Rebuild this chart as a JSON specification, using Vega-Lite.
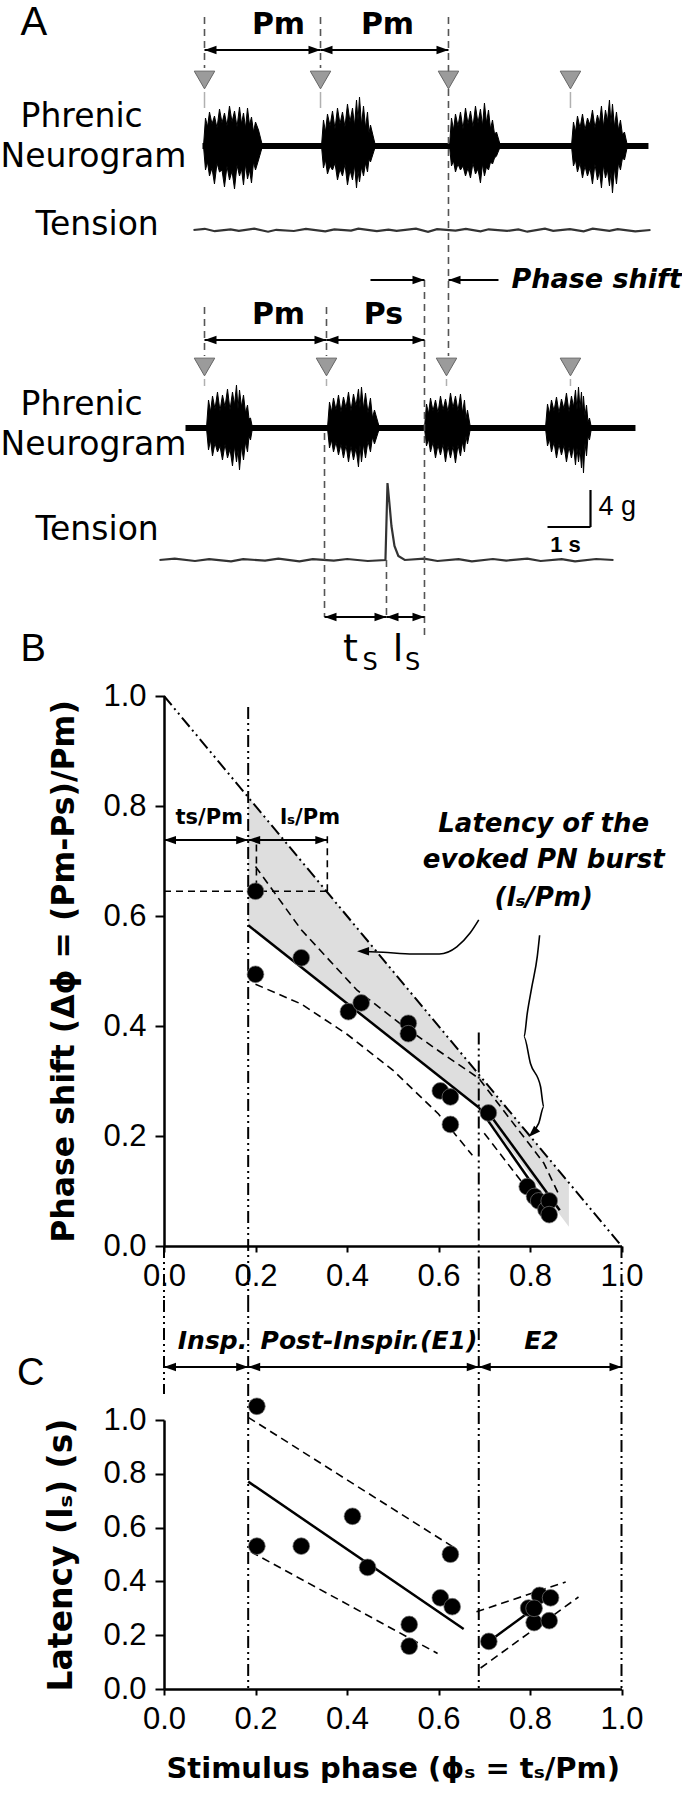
{
"$schema":"https://vega.github.io/schema/vega-lite/v6.json",
"background":"white",
"padding":0,
"spacing":174,
"bounds":"flush",
"config":{"view":{"stroke":null},"font":"DejaVu Sans",
 "axis":{"grid":false,"domainColor":"black","domainWidth":2.5,"tickColor":"black","tickWidth":2,"labelFont":"Liberation Sans","labelFontSize":31,"labelColor":"black","labelFlush":false,"labelOverlap":false,"labelBound":false,"titleFont":"DejaVu Sans","titleFontWeight":"bold","titleFontSize":31,"titleColor":"black"}},
"resolve":{"scale":{"x":"independent","y":"independent"}},
"vconcat":[
{
 "width":457.5,"height":522,
 "encoding":{
  "x":{"field":"x","type":"quantitative","scale":{"domain":[0,10.64],"nice":false,"zero":false},"axis":null},
  "y":{"field":"y","type":"quantitative","scale":{"domain":[0,52.2],"nice":false,"zero":false},"axis":null}
 },
 "layer":[
  {"data":{"values":[{"x":0.895,"x2":11.267,"y":37.3,"y2":37.9},{"x":0.5,"x2":10.965,"y":9.1,"y2":9.7}]},
   "mark":{"type":"rect","color":"black"},
   "encoding":{"x2":{"field":"x2"},"y2":{"field":"y2"}}},
  {"data":{"values":[
   {"id":"a1","x":0.919,"y":37.6,"y2":37.6},{"id":"a1","x":0.965,"y":40.4,"y2":35.2},{"id":"a1","x":1.012,"y":39.5,"y2":36.0},{"id":"a1","x":1.058,"y":41.0,"y2":34.6},{"id":"a1","x":1.116,"y":39.8,"y2":35.4},{"id":"a1","x":1.174,"y":40.6,"y2":33.8},{"id":"a1","x":1.233,"y":39.4,"y2":35.9},{"id":"a1","x":1.291,"y":41.3,"y2":35.0},{"id":"a1","x":1.349,"y":39.9,"y2":35.2},{"id":"a1","x":1.407,"y":40.9,"y2":33.5},{"id":"a1","x":1.465,"y":39.6,"y2":35.6},{"id":"a1","x":1.523,"y":41.6,"y2":34.2},{"id":"a1","x":1.582,"y":40.0,"y2":35.1},{"id":"a1","x":1.640,"y":41.1,"y2":33.3},{"id":"a1","x":1.698,"y":39.5,"y2":35.7},{"id":"a1","x":1.756,"y":41.5,"y2":34.6},{"id":"a1","x":1.803,"y":39.8,"y2":35.3},{"id":"a1","x":1.849,"y":40.9,"y2":33.7},{"id":"a1","x":1.896,"y":39.4,"y2":35.8},{"id":"a1","x":1.942,"y":41.4,"y2":34.3},{"id":"a1","x":1.989,"y":39.7,"y2":35.2},{"id":"a1","x":2.035,"y":40.5,"y2":33.9},{"id":"a1","x":2.082,"y":39.0,"y2":36.0},{"id":"a1","x":2.128,"y":40.0,"y2":35.2},{"id":"a1","x":2.198,"y":39.2,"y2":36.2},{"id":"a1","x":2.291,"y":37.6,"y2":37.6},
   {"id":"a2","x":3.663,"y":37.6,"y2":37.6},{"id":"a2","x":3.709,"y":40.2,"y2":35.4},{"id":"a2","x":3.756,"y":39.0,"y2":36.2},{"id":"a2","x":3.802,"y":40.8,"y2":34.8},{"id":"a2","x":3.861,"y":39.6,"y2":35.6},{"id":"a2","x":3.919,"y":41.1,"y2":35.2},{"id":"a2","x":3.977,"y":39.3,"y2":35.9},{"id":"a2","x":4.035,"y":41.4,"y2":34.2},{"id":"a2","x":4.093,"y":39.8,"y2":35.3},{"id":"a2","x":4.151,"y":41.0,"y2":34.6},{"id":"a2","x":4.209,"y":39.5,"y2":35.8},{"id":"a2","x":4.267,"y":41.8,"y2":33.7},{"id":"a2","x":4.326,"y":40.0,"y2":35.2},{"id":"a2","x":4.384,"y":41.4,"y2":34.2},{"id":"a2","x":4.431,"y":39.6,"y2":35.7},{"id":"a2","x":4.477,"y":42.2,"y2":33.4},{"id":"a2","x":4.512,"y":40.2,"y2":35.1},{"id":"a2","x":4.547,"y":42.5,"y2":34.0},{"id":"a2","x":4.594,"y":39.7,"y2":35.5},{"id":"a2","x":4.640,"y":41.6,"y2":34.6},{"id":"a2","x":4.687,"y":39.4,"y2":35.9},{"id":"a2","x":4.733,"y":41.0,"y2":35.0},{"id":"a2","x":4.768,"y":38.9,"y2":36.3},{"id":"a2","x":4.802,"y":39.7,"y2":36.0},{"id":"a2","x":4.919,"y":37.6,"y2":37.6},
   {"id":"a3","x":6.640,"y":37.6,"y2":37.6},{"id":"a3","x":6.686,"y":40.4,"y2":35.6},{"id":"a3","x":6.733,"y":39.2,"y2":36.1},{"id":"a3","x":6.779,"y":40.8,"y2":35.0},{"id":"a3","x":6.837,"y":39.6,"y2":35.8},{"id":"a3","x":6.895,"y":41.0,"y2":35.2},{"id":"a3","x":6.954,"y":39.3,"y2":35.6},{"id":"a3","x":7.012,"y":41.4,"y2":34.6},{"id":"a3","x":7.070,"y":39.8,"y2":35.4},{"id":"a3","x":7.128,"y":41.1,"y2":34.4},{"id":"a3","x":7.186,"y":39.5,"y2":35.9},{"id":"a3","x":7.244,"y":41.6,"y2":34.8},{"id":"a3","x":7.302,"y":39.9,"y2":35.3},{"id":"a3","x":7.360,"y":41.3,"y2":33.9},{"id":"a3","x":7.407,"y":39.6,"y2":35.8},{"id":"a3","x":7.453,"y":41.9,"y2":34.6},{"id":"a3","x":7.500,"y":39.9,"y2":35.5},{"id":"a3","x":7.547,"y":41.2,"y2":35.2},{"id":"a3","x":7.594,"y":39.3,"y2":36.0},{"id":"a3","x":7.640,"y":40.2,"y2":35.8},{"id":"a3","x":7.687,"y":38.8,"y2":36.4},{"id":"a3","x":7.733,"y":39.0,"y2":36.6},{"id":"a3","x":7.826,"y":37.6,"y2":37.6},
   {"id":"a4","x":9.477,"y":37.6,"y2":37.6},{"id":"a4","x":9.523,"y":40.0,"y2":35.6},{"id":"a4","x":9.570,"y":39.0,"y2":36.2},{"id":"a4","x":9.616,"y":40.6,"y2":35.0},{"id":"a4","x":9.675,"y":39.4,"y2":35.9},{"id":"a4","x":9.733,"y":40.8,"y2":34.4},{"id":"a4","x":9.791,"y":39.2,"y2":35.6},{"id":"a4","x":9.849,"y":40.4,"y2":34.6},{"id":"a4","x":9.907,"y":39.7,"y2":35.4},{"id":"a4","x":9.965,"y":41.2,"y2":33.8},{"id":"a4","x":10.023,"y":39.4,"y2":35.8},{"id":"a4","x":10.081,"y":40.7,"y2":34.2},{"id":"a4","x":10.128,"y":39.9,"y2":35.1},{"id":"a4","x":10.174,"y":41.6,"y2":33.4},{"id":"a4","x":10.221,"y":39.5,"y2":35.7},{"id":"a4","x":10.267,"y":41.2,"y2":34.4},{"id":"a4","x":10.314,"y":40.1,"y2":35.2},{"id":"a4","x":10.360,"y":42.2,"y2":33.6},{"id":"a4","x":10.395,"y":39.8,"y2":35.0},{"id":"a4","x":10.430,"y":41.8,"y2":32.9},{"id":"a4","x":10.477,"y":39.5,"y2":35.4},{"id":"a4","x":10.523,"y":41.0,"y2":33.8},{"id":"a4","x":10.570,"y":39.2,"y2":35.9},{"id":"a4","x":10.616,"y":40.2,"y2":35.2},{"id":"a4","x":10.663,"y":38.7,"y2":36.4},{"id":"a4","x":10.709,"y":39.0,"y2":36.2},{"id":"a4","x":10.779,"y":37.6,"y2":37.6},
   {"id":"b1","x":0.988,"y":9.4,"y2":9.4},{"id":"b1","x":1.035,"y":12.2,"y2":7.2},{"id":"b1","x":1.082,"y":11.0,"y2":8.2},{"id":"b1","x":1.128,"y":12.6,"y2":6.6},{"id":"b1","x":1.186,"y":11.3,"y2":7.9},{"id":"b1","x":1.244,"y":13.0,"y2":7.0},{"id":"b1","x":1.302,"y":11.1,"y2":7.6},{"id":"b1","x":1.360,"y":12.7,"y2":6.2},{"id":"b1","x":1.419,"y":11.5,"y2":7.8},{"id":"b1","x":1.477,"y":13.3,"y2":6.4},{"id":"b1","x":1.535,"y":11.2,"y2":7.3},{"id":"b1","x":1.593,"y":13.0,"y2":5.6},{"id":"b1","x":1.640,"y":11.7,"y2":7.6},{"id":"b1","x":1.686,"y":13.7,"y2":6.0},{"id":"b1","x":1.721,"y":11.3,"y2":7.2},{"id":"b1","x":1.756,"y":13.2,"y2":5.2},{"id":"b1","x":1.803,"y":11.5,"y2":7.6},{"id":"b1","x":1.849,"y":12.7,"y2":6.2},{"id":"b1","x":1.896,"y":10.9,"y2":8.0},{"id":"b1","x":1.942,"y":11.7,"y2":7.0},{"id":"b1","x":1.977,"y":10.3,"y2":8.6},{"id":"b1","x":2.012,"y":10.4,"y2":8.2},{"id":"b1","x":2.058,"y":9.4,"y2":9.4},
   {"id":"b2","x":3.802,"y":9.4,"y2":9.4},{"id":"b2","x":3.849,"y":12.0,"y2":7.4},{"id":"b2","x":3.896,"y":11.0,"y2":8.2},{"id":"b2","x":3.942,"y":12.4,"y2":7.0},{"id":"b2","x":4.000,"y":11.2,"y2":8.0},{"id":"b2","x":4.058,"y":12.7,"y2":6.7},{"id":"b2","x":4.116,"y":11.0,"y2":7.8},{"id":"b2","x":4.174,"y":12.5,"y2":6.4},{"id":"b2","x":4.233,"y":11.4,"y2":7.7},{"id":"b2","x":4.291,"y":13.0,"y2":6.0},{"id":"b2","x":4.349,"y":11.1,"y2":7.6},{"id":"b2","x":4.407,"y":12.8,"y2":6.2},{"id":"b2","x":4.465,"y":11.6,"y2":7.4},{"id":"b2","x":4.523,"y":13.3,"y2":5.5},{"id":"b2","x":4.558,"y":11.4,"y2":7.7},{"id":"b2","x":4.593,"y":13.5,"y2":6.0},{"id":"b2","x":4.640,"y":11.3,"y2":7.8},{"id":"b2","x":4.686,"y":12.9,"y2":6.4},{"id":"b2","x":4.744,"y":10.9,"y2":8.1},{"id":"b2","x":4.802,"y":12.4,"y2":7.0},{"id":"b2","x":4.849,"y":10.4,"y2":8.5},{"id":"b2","x":4.895,"y":11.2,"y2":7.8},{"id":"b2","x":5.012,"y":9.4,"y2":9.4},
   {"id":"b3","x":6.058,"y":9.4,"y2":9.4},{"id":"b3","x":6.105,"y":11.8,"y2":7.6},{"id":"b3","x":6.152,"y":10.8,"y2":8.3},{"id":"b3","x":6.198,"y":12.4,"y2":7.0},{"id":"b3","x":6.256,"y":11.1,"y2":8.0},{"id":"b3","x":6.314,"y":12.2,"y2":6.4},{"id":"b3","x":6.372,"y":10.9,"y2":7.7},{"id":"b3","x":6.430,"y":12.6,"y2":6.7},{"id":"b3","x":6.489,"y":11.2,"y2":7.8},{"id":"b3","x":6.547,"y":12.3,"y2":6.0},{"id":"b3","x":6.605,"y":11.0,"y2":7.6},{"id":"b3","x":6.663,"y":12.9,"y2":6.4},{"id":"b3","x":6.721,"y":11.4,"y2":7.6},{"id":"b3","x":6.779,"y":12.6,"y2":5.9},{"id":"b3","x":6.837,"y":11.1,"y2":7.7},{"id":"b3","x":6.895,"y":12.8,"y2":6.6},{"id":"b3","x":6.942,"y":10.9,"y2":8.0},{"id":"b3","x":6.988,"y":12.2,"y2":7.0},{"id":"b3","x":7.023,"y":10.3,"y2":8.6},{"id":"b3","x":7.058,"y":11.2,"y2":7.8},{"id":"b3","x":7.128,"y":9.4,"y2":9.4},
   {"id":"b4","x":8.872,"y":9.4,"y2":9.4},{"id":"b4","x":8.919,"y":11.8,"y2":7.6},{"id":"b4","x":8.966,"y":10.8,"y2":8.3},{"id":"b4","x":9.012,"y":12.2,"y2":7.0},{"id":"b4","x":9.070,"y":11.1,"y2":8.0},{"id":"b4","x":9.128,"y":12.5,"y2":6.4},{"id":"b4","x":9.186,"y":10.9,"y2":7.8},{"id":"b4","x":9.244,"y":12.3,"y2":6.7},{"id":"b4","x":9.302,"y":11.3,"y2":7.7},{"id":"b4","x":9.360,"y":12.9,"y2":6.0},{"id":"b4","x":9.419,"y":11.0,"y2":7.5},{"id":"b4","x":9.477,"y":12.6,"y2":6.4},{"id":"b4","x":9.524,"y":11.5,"y2":7.6},{"id":"b4","x":9.570,"y":13.2,"y2":5.7},{"id":"b4","x":9.605,"y":11.2,"y2":7.4},{"id":"b4","x":9.640,"y":13.5,"y2":6.0},{"id":"b4","x":9.675,"y":11.3,"y2":7.3},{"id":"b4","x":9.709,"y":13.0,"y2":5.4},{"id":"b4","x":9.733,"y":11.0,"y2":7.1},{"id":"b4","x":9.756,"y":12.6,"y2":4.9},{"id":"b4","x":9.791,"y":10.6,"y2":7.9},{"id":"b4","x":9.826,"y":11.7,"y2":6.6},{"id":"b4","x":9.861,"y":10.0,"y2":8.6},{"id":"b4","x":9.895,"y":10.4,"y2":8.2},{"id":"b4","x":9.942,"y":9.4,"y2":9.4}
  ]},
   "mark":{"type":"area","color":"black","stroke":"black","strokeWidth":1,"opacity":1},
   "encoding":{"y2":{"field":"y2"},"detail":{"field":"id"}}},
  {"data":{"values":[
   {"id":"T1","x":0.686,"y":29.2},{"id":"T1","x":0.95,"y":29.32},{"id":"T1","x":1.18,"y":29.08},{"id":"T1","x":1.55,"y":29.27},{"id":"T1","x":1.74,"y":29.12},{"id":"T1","x":2.1,"y":29.33},{"id":"T1","x":2.42,"y":29.03},{"id":"T1","x":2.61,"y":29.22},{"id":"T1","x":3.02,"y":29.1},{"id":"T1","x":3.3,"y":29.31},{"id":"T1","x":3.75,"y":29.06},{"id":"T1","x":3.96,"y":29.26},{"id":"T1","x":4.35,"y":29.14},{"id":"T1","x":4.52,"y":29.33},{"id":"T1","x":4.95,"y":29.08},{"id":"T1","x":5.22,"y":29.24},{"id":"T1","x":5.41,"y":29.12},{"id":"T1","x":5.86,"y":29.34},{"id":"T1","x":6.14,"y":29.02},{"id":"T1","x":6.35,"y":29.28},{"id":"T1","x":6.78,"y":29.13},{"id":"T1","x":7.02,"y":29.32},{"id":"T1","x":7.36,"y":29.07},{"id":"T1","x":7.55,"y":29.27},{"id":"T1","x":7.98,"y":29.11},{"id":"T1","x":8.24,"y":29.26},{"id":"T1","x":8.45,"y":29.03},{"id":"T1","x":8.86,"y":29.33},{"id":"T1","x":9.05,"y":29.12},{"id":"T1","x":9.44,"y":29.29},{"id":"T1","x":9.76,"y":29.06},{"id":"T1","x":9.97,"y":29.33},{"id":"T1","x":10.36,"y":29.12},{"id":"T1","x":10.55,"y":29.29},{"id":"T1","x":10.96,"y":29.07},{"id":"T1","x":11.314,"y":29.2},
   {"id":"T2","x":-0.105,"y":-3.8},{"id":"T2","x":0.25,"y":-3.66},{"id":"T2","x":0.72,"y":-3.9},{"id":"T2","x":1.05,"y":-3.71},{"id":"T2","x":1.56,"y":-3.93},{"id":"T2","x":1.84,"y":-3.72},{"id":"T2","x":2.35,"y":-3.86},{"id":"T2","x":2.66,"y":-3.67},{"id":"T2","x":3.15,"y":-3.94},{"id":"T2","x":3.46,"y":-3.72},{"id":"T2","x":3.95,"y":-3.86},{"id":"T2","x":4.26,"y":-3.7},{"id":"T2","x":4.74,"y":-3.9},{"id":"T2","x":5.15,"y":-3.8},{"id":"T2","x":5.198,"y":3.9},{"id":"T2","x":5.24,"y":2.0},{"id":"T2","x":5.29,"y":-0.4},{"id":"T2","x":5.36,"y":-2.4},{"id":"T2","x":5.45,"y":-3.4},{"id":"T2","x":5.6,"y":-3.8},{"id":"T2","x":6.05,"y":-3.66},{"id":"T2","x":6.36,"y":-3.9},{"id":"T2","x":6.85,"y":-3.71},{"id":"T2","x":7.16,"y":-3.94},{"id":"T2","x":7.65,"y":-3.7},{"id":"T2","x":7.96,"y":-3.86},{"id":"T2","x":8.45,"y":-3.66},{"id":"T2","x":8.76,"y":-3.9},{"id":"T2","x":9.25,"y":-3.72},{"id":"T2","x":9.56,"y":-3.94},{"id":"T2","x":10.05,"y":-3.7},{"id":"T2","x":10.453,"y":-3.8}
  ]},
   "mark":{"type":"line","color":"#333333","strokeWidth":2.2},
   "encoding":{"detail":{"field":"id"}}},
  {"data":{"values":[{"x":0.942,"y":50.5,"y2":45.4},{"x":3.640,"y":50.5,"y2":45.4},{"x":6.616,"y":50.5,"y2":16.6},{"x":0.942,"y":21.5,"y2":16.6},{"x":3.779,"y":21.5,"y2":16.6},{"x":6.058,"y":24.2,"y2":-11.5},{"x":3.733,"y":8.9,"y2":-9.5},{"x":5.174,"y":-3.8,"y2":-9.5}]},
   "mark":{"type":"rule","color":"#555555","strokeWidth":1.6,"strokeDash":[7,5]},
   "encoding":{"y2":{"field":"y2"}}},
  {"data":{"values":[{"x":0.942,"y":43.0,"y2":41.4},{"x":3.640,"y":43.0,"y2":41.4},{"x":9.453,"y":43.0,"y2":41.4},{"x":0.942,"y":14.3,"y2":13.6},{"x":3.779,"y":14.3,"y2":13.6},{"x":6.570,"y":14.3,"y2":13.6},{"x":9.453,"y":14.3,"y2":13.6}]},
   "mark":{"type":"rule","color":"#b0b0b0","strokeWidth":1.5},
   "encoding":{"y2":{"field":"y2"}}},
  {"data":{"values":[{"x":0.942,"x2":3.640,"y":47.2,"y2":47.2},{"x":3.640,"x2":6.616,"y":47.2,"y2":47.2},{"x":0.942,"x2":3.779,"y":18.2,"y2":18.2},{"x":3.779,"x2":6.058,"y":18.2,"y2":18.2},{"x":4.802,"x2":6.058,"y":24.2,"y2":24.2},{"x":6.616,"x2":7.779,"y":24.2,"y2":24.2},{"x":3.733,"x2":5.174,"y":-9.5,"y2":-9.5},{"x":5.174,"x2":6.058,"y":-9.5,"y2":-9.5},{"x":9.919,"x2":9.919,"y":3.2,"y2":-0.5},{"x":8.919,"x2":9.919,"y":-0.5,"y2":-0.5}]},
   "mark":{"type":"rule","color":"black","strokeWidth":2.2},
   "encoding":{"x2":{"field":"x2"},"y2":{"field":"y2"}}},
  {"data":{"values":[{"x":0.942,"y":47.2,"a":180},{"x":3.640,"y":47.2,"a":0},{"x":3.640,"y":47.2,"a":180},{"x":6.616,"y":47.2,"a":0},{"x":0.942,"y":18.2,"a":180},{"x":3.779,"y":18.2,"a":0},{"x":3.779,"y":18.2,"a":180},{"x":6.058,"y":18.2,"a":0},{"x":6.058,"y":24.2,"a":0},{"x":6.616,"y":24.2,"a":180},{"x":3.733,"y":-9.5,"a":180},{"x":5.174,"y":-9.5,"a":0},{"x":5.174,"y":-9.5,"a":180},{"x":6.058,"y":-9.5,"a":0}]},
   "mark":{"type":"point","shape":"M0,0L-2,-0.7L-2,0.7Z","filled":true,"fill":"black","strokeWidth":0,"size":144,"opacity":1},
   "encoding":{"angle":{"field":"a","type":"quantitative","scale":null}}},
  {"data":{"values":[{"x":0.942,"y":44.2},{"x":3.640,"y":44.2},{"x":6.616,"y":44.2},{"x":9.453,"y":44.2},{"x":0.942,"y":15.5},{"x":3.779,"y":15.5},{"x":6.570,"y":15.5},{"x":9.453,"y":15.5}]},
   "mark":{"type":"point","shape":"triangle-down","filled":true,"fill":"#9b9b9b","stroke":"#666666","strokeWidth":1,"size":420,"opacity":1}},
  {"data":{"values":[{"x":-3.337,"y":49.9,"label":"A"}]},
   "mark":{"type":"text","font":"Liberation Sans","fontSize":40,"align":"left","baseline":"middle","color":"black"},
   "encoding":{"text":{"field":"label"}}},
  {"data":{"values":[{"x":-3.337,"y":40.5,"label":"Phrenic"},{"x":-3.802,"y":36.5,"label":"Neurogram"},{"x":-2.988,"y":29.7,"label":"Tension"},{"x":-3.337,"y":11.7,"label":"Phrenic"},{"x":-3.802,"y":7.7,"label":"Neurogram"},{"x":-2.988,"y":-0.8,"label":"Tension"}]},
   "mark":{"type":"text","font":"DejaVu Sans","fontSize":33,"align":"left","baseline":"middle","color":"black"},
   "encoding":{"text":{"field":"label"}}},
  {"data":{"values":[{"x":2.663,"y":49.7,"label":"Pm"},{"x":5.198,"y":49.7,"label":"Pm"},{"x":2.663,"y":20.7,"label":"Pm"},{"x":5.105,"y":20.7,"label":"Ps"}]},
   "mark":{"type":"text","font":"DejaVu Sans","fontWeight":"bold","fontSize":30,"align":"center","baseline":"middle","color":"black"},
   "encoding":{"text":{"field":"label"}}},
  {"data":{"values":[{"x":8.081,"y":24.2,"label":"Phase shift"}]},
   "mark":{"type":"text","font":"DejaVu Sans","fontWeight":"bold","fontStyle":"italic","fontSize":27,"align":"left","baseline":"middle","color":"black"},
   "encoding":{"text":{"field":"label"}}},
  {"data":{"values":[{"x":10.105,"y":1.5,"label":"4 g"}]},
   "mark":{"type":"text","font":"Liberation Sans","fontSize":27,"align":"left","baseline":"middle","color":"black"},
   "encoding":{"text":{"field":"label"}}},
  {"data":{"values":[{"x":9.337,"y":-2.3,"label":"1 s"}]},
   "mark":{"type":"text","font":"Liberation Sans","fontWeight":"bold","fontSize":22,"align":"center","baseline":"middle","color":"black"},
   "encoding":{"text":{"field":"label"}}},
  {"data":{"values":[{"x":4.337,"y":-12.8,"label":"t"},{"x":5.442,"y":-12.8,"label":"l"}]},
   "mark":{"type":"text","font":"DejaVu Sans","fontSize":38,"align":"center","baseline":"middle","color":"black"},
   "encoding":{"text":{"field":"label"}}},
  {"data":{"values":[{"x":4.791,"y":-14.05,"label":"S"},{"x":5.779,"y":-14.05,"label":"S"}]},
   "mark":{"type":"text","font":"DejaVu Sans","fontSize":24,"align":"center","baseline":"middle","color":"black"},
   "encoding":{"text":{"field":"label"}}}
 ]
},
{
 "width":457.5,"height":550,
 "encoding":{
  "x":{"field":"x","type":"quantitative","scale":{"domain":[0,1],"nice":false,"zero":false},"axis":{"values":[0,0.2,0.4,0.6,0.8,1],"format":".1f","title":null,"tickSize":6,"labelPadding":9}},
  "y":{"field":"y","type":"quantitative","scale":{"domain":[0,1],"nice":false,"zero":false},"axis":{"values":[0,0.2,0.4,0.6,0.8,1],"format":".1f","title":"Phase shift (Δϕ = (Pm-Ps)/Pm)","tickSize":9,"labelPadding":9,"titlePadding":22,"titleFontSize":31.5}}
 },
 "layer":[
  {"data":{"values":[{"x":0.184,"y":0.583,"y2":0.816},{"x":0.688,"y":0.252,"y2":0.312},{"x":0.885,"y":0.035,"y2":0.115}]},
   "mark":{"type":"area","color":"#dedede","opacity":1},
   "encoding":{"y2":{"field":"y2"}}},
  {"data":{"values":[{"x":0,"y":1},{"x":1,"y":0}]},
   "mark":{"type":"line","color":"black","strokeWidth":2,"strokeDash":[12,4,2,4,2,4]}},
  {"data":{"values":[{"x":0.184,"y":0.98,"y2":-0.098},{"x":0.688,"y":0.388,"y2":-0.098},{"x":1,"y":0,"y2":-0.098},{"x":0,"y":0,"y2":-0.098}]},
   "mark":{"type":"rule","color":"black","strokeWidth":2,"strokeDash":[12,4,2,4,2,4]},
   "encoding":{"y2":{"field":"y2"}}},
  {"data":{"values":[{"x":0,"x2":0.357,"y":0.645,"y2":0.645},{"x":0.357,"x2":0.357,"y":0.645,"y2":0.75},{"x":0.202,"x2":0.202,"y":0.652,"y2":0.738}]},
   "mark":{"type":"rule","color":"black","strokeWidth":1.6,"strokeDash":[7,5]},
   "encoding":{"x2":{"field":"x2"},"y2":{"field":"y2"}}},
  {"data":{"values":[
   {"id":"up","x":0.20,"y":0.69},{"id":"up","x":0.30,"y":0.575},{"id":"up","x":0.422,"y":0.465},{"id":"up","x":0.523,"y":0.40},{"id":"up","x":0.60,"y":0.355},{"id":"up","x":0.688,"y":0.305},{"id":"up","x":0.83,"y":0.151},{"id":"up","x":0.865,"y":0.09},
   {"id":"lo","x":0.20,"y":0.476},{"id":"lo","x":0.30,"y":0.44},{"id":"lo","x":0.40,"y":0.385},{"id":"lo","x":0.50,"y":0.32},{"id":"lo","x":0.60,"y":0.24},{"id":"lo","x":0.674,"y":0.165},
   {"id":"lo2","x":0.70,"y":0.205},{"id":"lo2","x":0.83,"y":0.065}
  ]},
   "mark":{"type":"line","color":"black","strokeWidth":1.6,"strokeDash":[8,5]},
   "encoding":{"detail":{"field":"id"}}},
  {"data":{"values":[{"id":"e1","x":0.184,"y":0.583},{"id":"e1","x":0.688,"y":0.252},{"id":"e2","x":0.688,"y":0.252},{"id":"e2","x":0.845,"y":0.065},{"id":"e3","x":0.72,"y":0.23},{"id":"e3","x":0.865,"y":0.065}]},
   "mark":{"type":"line","color":"black","strokeWidth":2.5},
   "encoding":{"detail":{"field":"id"}}},
  {"data":{"values":[{"x":0,"x2":0.184,"y":0.738,"y2":0.738},{"x":0.184,"x2":0.357,"y":0.738,"y2":0.738}]},
   "mark":{"type":"rule","color":"black","strokeWidth":2},
   "encoding":{"x2":{"field":"x2"},"y2":{"field":"y2"}}},
  {"data":{"values":[
   {"id":"c1","o":1,"x":0.688,"y":0.593},{"id":"c1","o":2,"x":0.669,"y":0.569},{"id":"c1","o":3,"x":0.640,"y":0.544},{"id":"c1","o":4,"x":0.602,"y":0.531},{"id":"c1","o":5,"x":0.545,"y":0.531},{"id":"c1","o":6,"x":0.479,"y":0.534},{"id":"c1","o":7,"x":0.43,"y":0.536},
   {"id":"c2","o":1,"x":0.821,"y":0.565},{"id":"c2","o":2,"x":0.816,"y":0.527},{"id":"c2","o":3,"x":0.804,"y":0.471},{"id":"c2","o":4,"x":0.794,"y":0.423},{"id":"c2","o":5,"x":0.787,"y":0.38},{"id":"c2","o":6,"x":0.801,"y":0.332},{"id":"c2","o":7,"x":0.823,"y":0.29},{"id":"c2","o":8,"x":0.830,"y":0.253},{"id":"c2","o":9,"x":0.819,"y":0.223},{"id":"c2","o":10,"x":0.805,"y":0.207}
  ]},
   "mark":{"type":"line","color":"black","strokeWidth":1.6,"interpolate":"monotone"},
   "encoding":{"detail":{"field":"id"},"order":{"field":"o"}}},
  {"data":{"values":[{"x":0,"y":0.738,"a":180},{"x":0.184,"y":0.738,"a":0},{"x":0.184,"y":0.738,"a":180},{"x":0.357,"y":0.738,"a":0},{"x":0.422,"y":0.536,"a":180},{"x":0.797,"y":0.198,"a":135}]},
   "mark":{"type":"point","shape":"M0,0L-2,-0.7L-2,0.7Z","filled":true,"fill":"black","strokeWidth":0,"size":144,"opacity":1},
   "encoding":{"angle":{"field":"a","type":"quantitative","scale":null}}},
  {"data":{"values":[{"x":0.20,"y":0.645},{"x":0.20,"y":0.494},{"x":0.30,"y":0.524},{"x":0.403,"y":0.426},{"x":0.431,"y":0.442},{"x":0.534,"y":0.405},{"x":0.534,"y":0.386},{"x":0.604,"y":0.282},{"x":0.626,"y":0.271},{"x":0.626,"y":0.221},{"x":0.709,"y":0.242},{"x":0.794,"y":0.108},{"x":0.810,"y":0.090},{"x":0.819,"y":0.082},{"x":0.835,"y":0.066},{"x":0.842,"y":0.082},{"x":0.842,"y":0.057}]},
   "mark":{"type":"point","filled":true,"fill":"black","stroke":"#777777","strokeWidth":0.7,"size":280,"opacity":1}},
  {"data":{"values":[{"x":0.099,"y":0.778,"label":"ts/Pm"},{"x":0.319,"y":0.778,"label":"lₛ/Pm"}]},
   "mark":{"type":"text","font":"DejaVu Sans","fontWeight":"bold","fontSize":21,"align":"center","baseline":"middle","color":"black"},
   "encoding":{"text":{"field":"label"}}},
  {"data":{"values":[{"x":0.83,"y":0.767,"label":"Latency of the"},{"x":0.83,"y":0.701,"label":"evoked PN burst"},{"x":0.83,"y":0.633,"label":"(lₛ/Pm)"}]},
   "mark":{"type":"text","font":"DejaVu Sans","fontWeight":"bold","fontStyle":"italic","fontSize":26,"align":"center","baseline":"middle","color":"black"},
   "encoding":{"text":{"field":"label"}}},
  {"data":{"values":[{"x":-0.3137,"y":1.084,"label":"B"}]},
   "mark":{"type":"text","font":"Liberation Sans","fontSize":38,"align":"left","baseline":"middle","color":"black"},
   "encoding":{"text":{"field":"label"}}}
 ]
},
{
 "width":457.5,"height":269,
 "encoding":{
  "x":{"field":"x","type":"quantitative","scale":{"domain":[0,1],"nice":false,"zero":false},"axis":{"values":[0,0.2,0.4,0.6,0.8,1],"format":".1f","title":"Stimulus phase (ϕₛ = tₛ/Pm)","tickSize":6,"labelPadding":9,"titlePadding":20,"titleFontSize":29}},
  "y":{"field":"y","type":"quantitative","scale":{"domain":[0,1],"nice":false,"zero":false},"axis":{"values":[0,0.2,0.4,0.6,0.8,1],"format":".1f","title":"Latency (lₛ) (s)","tickSize":9,"labelPadding":9,"titlePadding":24,"titleFontSize":33}}
 },
 "layer":[
  {"data":{"values":[{"x":0.184,"y":1.446,"y2":0},{"x":0.688,"y":1.446,"y2":0},{"x":1,"y":1.446,"y2":0},{"x":0,"y":1.446,"y2":1.097}]},
   "mark":{"type":"rule","color":"black","strokeWidth":2,"strokeDash":[12,4,2,4,2,4]},
   "encoding":{"y2":{"field":"y2"}}},
  {"data":{"values":[{"x":0,"x2":0.184,"y":1.197,"y2":1.197},{"x":0.184,"x2":0.688,"y":1.197,"y2":1.197},{"x":0.688,"x2":1,"y":1.197,"y2":1.197}]},
   "mark":{"type":"rule","color":"black","strokeWidth":2},
   "encoding":{"x2":{"field":"x2"},"y2":{"field":"y2"}}},
  {"data":{"values":[{"x":0,"y":1.197,"a":180},{"x":0.184,"y":1.197,"a":0},{"x":0.184,"y":1.197,"a":180},{"x":0.688,"y":1.197,"a":0},{"x":0.688,"y":1.197,"a":180},{"x":1,"y":1.197,"a":0}]},
   "mark":{"type":"point","shape":"M0,0L-2,-0.7L-2,0.7Z","filled":true,"fill":"black","strokeWidth":0,"size":144,"opacity":1},
   "encoding":{"angle":{"field":"a","type":"quantitative","scale":null}}},
  {"data":{"values":[{"x":0.106,"y":1.294,"label":"Insp."},{"x":0.448,"y":1.294,"label":"Post-Inspir.(E1)"},{"x":0.825,"y":1.294,"label":"E2"}]},
   "mark":{"type":"text","font":"DejaVu Sans","fontWeight":"bold","fontStyle":"italic","fontSize":25,"align":"center","baseline":"middle","color":"black"},
   "encoding":{"text":{"field":"label"}}},
  {"data":{"values":[{"id":"u1","x":0.184,"y":1.01},{"id":"u1","x":0.63,"y":0.53},{"id":"l1","x":0.19,"y":0.51},{"id":"l1","x":0.598,"y":0.132},{"id":"u2","x":0.683,"y":0.287},{"id":"u2","x":0.878,"y":0.398},{"id":"l2","x":0.692,"y":0.078},{"id":"l2","x":0.906,"y":0.342}]},
   "mark":{"type":"line","color":"black","strokeWidth":1.6,"strokeDash":[8,5]},
   "encoding":{"detail":{"field":"id"}}},
  {"data":{"values":[{"id":"s1","x":0.184,"y":0.771},{"id":"s1","x":0.655,"y":0.223},{"id":"s2","x":0.705,"y":0.17},{"id":"s2","x":0.825,"y":0.32}]},
   "mark":{"type":"line","color":"black","strokeWidth":2.5},
   "encoding":{"detail":{"field":"id"}}},
  {"data":{"values":[{"x":0.203,"y":1.051},{"x":0.203,"y":0.531},{"x":0.300,"y":0.531},{"x":0.412,"y":0.642},{"x":0.445,"y":0.452},{"x":0.536,"y":0.240},{"x":0.536,"y":0.159},{"x":0.604,"y":0.339},{"x":0.630,"y":0.306},{"x":0.626,"y":0.501},{"x":0.710,"y":0.177},{"x":0.797,"y":0.301},{"x":0.809,"y":0.247},{"x":0.821,"y":0.348},{"x":0.845,"y":0.339},{"x":0.842,"y":0.254},{"x":0.809,"y":0.30}]},
   "mark":{"type":"point","filled":true,"fill":"black","stroke":"#777777","strokeWidth":0.7,"size":280,"opacity":1}},
  {"data":{"values":[{"x":-0.3213,"y":1.172,"label":"C"}]},
   "mark":{"type":"text","font":"Liberation Sans","fontSize":38,"align":"left","baseline":"middle","color":"black"},
   "encoding":{"text":{"field":"label"}}}
 ]
}
]
}
